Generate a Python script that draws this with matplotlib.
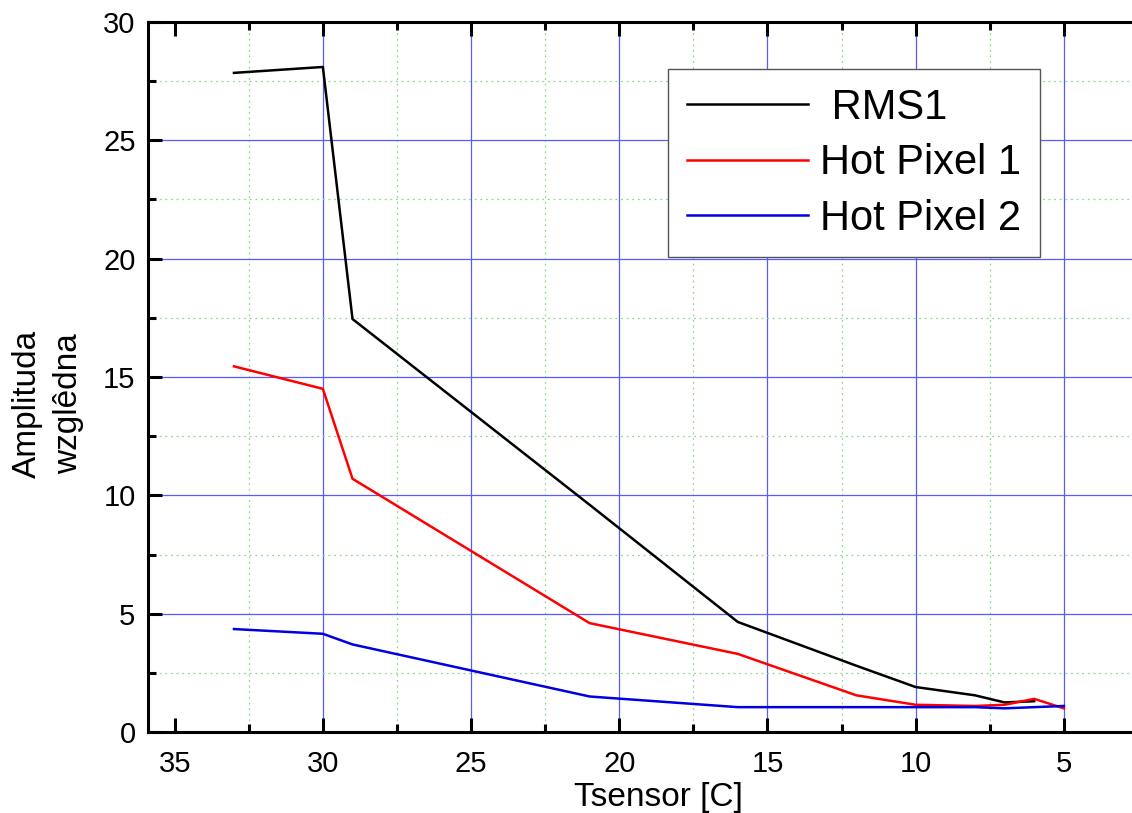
import numpy as np
import matplotlib
matplotlib.use('Agg')
import matplotlib.pyplot as plt
from matplotlib.ticker import MultipleLocator

plt.rcParams['font.family'] = ['Liberation Sans', 'DejaVu Sans']

# data
t_sensor = [33, 30, 29, 21, 16, 12, 10, 8, 7, 6, 5]
rms1 = [27.85, 28.1, 17.45, 9.6, 4.65, 2.8, 1.9, 1.55, 1.25, 1.3, np.nan]
hot_pixel_1 = [15.45, 14.5, 10.7, 4.6, 3.3, 1.55, 1.15, 1.1, 1.15, 1.4, 1.0]
hot_pixel_2 = [4.35, 4.15, 3.7, 1.5, 1.05, 1.05, 1.05, 1.05, 1.0, 1.05, 1.1]

fig = plt.figure(figsize=(11.32, 8.13), dpi=100)
ax = fig.add_axes([148/1132, 81/813, 1 - 148/1132, 710/813])

ax.plot(t_sensor, rms1, color='black', lw=1.8, label=' RMS1')
ax.plot(t_sensor, hot_pixel_1, color='#ff0000', lw=1.8, label='Hot Pixel 1')
ax.plot(t_sensor, hot_pixel_2, color='#0000e0', lw=1.8, label='Hot Pixel 2')

ax.set_xlim(35.9, 2.7)
ax.set_ylim(0, 30)

ax.xaxis.set_major_locator(MultipleLocator(5))
ax.xaxis.set_minor_locator(MultipleLocator(2.5))
ax.yaxis.set_major_locator(MultipleLocator(5))
ax.yaxis.set_minor_locator(MultipleLocator(2.5))

ax.grid(which='major', color='#5a5aff', lw=0.9)
ax.grid(which='minor', color='#8fd88f', lw=0.9, ls=(0, (1.5, 3)))
ax.set_axisbelow(True)

for s in ['left', 'bottom', 'top']:
    ax.spines[s].set_linewidth(2.2)
ax.spines['right'].set_visible(False)

ax.tick_params(which='both', direction='in', top=True, right=False, width=2.2, labelsize=21)
ax.tick_params(which='major', length=10, pad=9)
ax.tick_params(axis='x', which='major', pad=13)
ax.tick_params(which='minor', length=6)

fig.text(658/1132, 1 - 797/813, 'Tsensor [C]', fontsize=24, ha='center', va='center')
fig.text(48/1132, 1 - 404/813, 'Amplituda\nwzglêdna', fontsize=24, rotation=90,
         ha='center', va='center', multialignment='center', linespacing=1.4)

leg = ax.legend(loc='upper left', bbox_to_anchor=((668-148)/984, (732-69)/710),
                borderaxespad=0, fontsize=30, fancybox=False, framealpha=1,
                edgecolor='#555555', handlelength=2.9, handletextpad=0.3,
                labelspacing=0.37, borderpad=0.45)
leg.get_frame().set_linewidth(1.0)

# no grid line at x = 35
fig.canvas.draw()
for tick in ax.xaxis.get_major_ticks():
    if abs(tick.get_loc() - 35) < 1e-6:
        tick.gridline.set_visible(False)

fig.savefig('out.png', dpi=100)
